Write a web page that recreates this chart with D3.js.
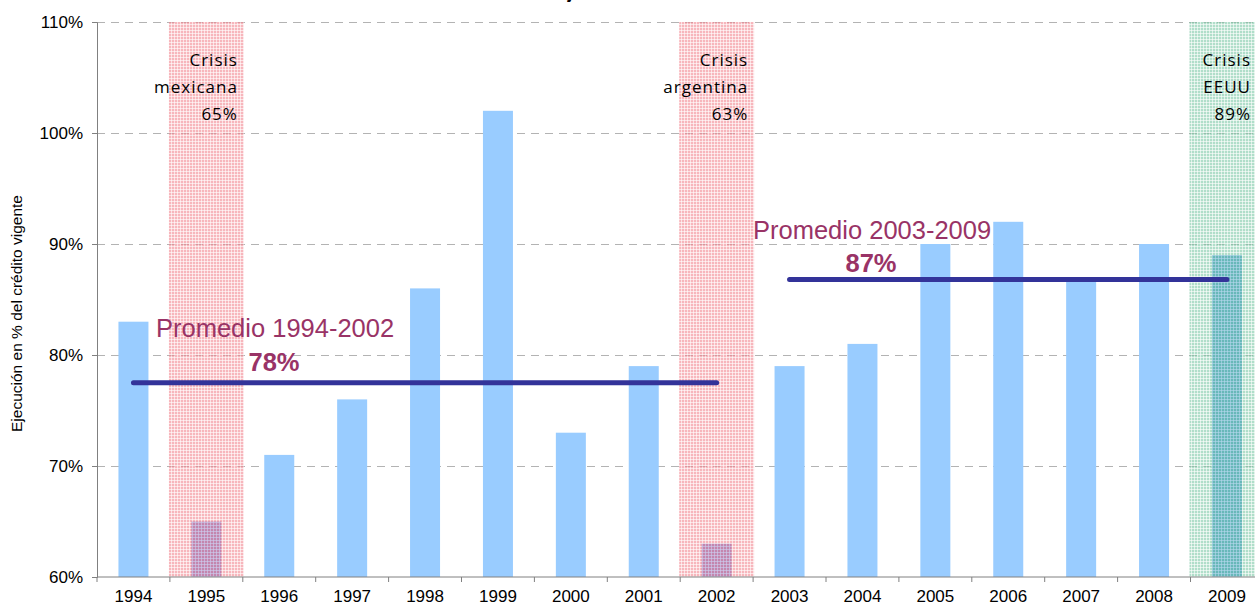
<!DOCTYPE html>
<html>
<head>
<meta charset="utf-8">
<style>
    html, body { margin: 0; padding: 0; background: #fff; }
    svg { display: block; font-family: "Liberation Sans", Arial, sans-serif; }
    .grid line { stroke: #b3b3b3; stroke-dasharray: 8,6; }
    .grid .domain { display: none; }
    .axis text { font-size: 17px; fill: #000; font-family: "Liberation Sans", Arial, sans-serif; }
    .axis line, .axis path { stroke: #808080; }
    .crisis-label { font-family: "Open Sans", sans-serif; font-size: 17px; letter-spacing: 1px; fill: #000; }
    .prom { fill: #993366; font-size: 25.5px; }
</style>
</head>
<body>
<svg width="1255" height="610">
    <defs>
        <pattern id="hatchRed" width="3" height="3" patternUnits="userSpaceOnUse">
            <rect width="3" height="3" fill="#f2858f"/>
            <rect x="0" y="0" width="3" height="1" fill="#ffffff" fill-opacity="0.6"/>
            <rect x="0" y="0" width="1" height="3" fill="#ffffff" fill-opacity="0.6"/>
        </pattern>
        <pattern id="hatchGreen" width="3" height="3" patternUnits="userSpaceOnUse">
            <rect width="3" height="3" fill="#7cc8a6"/>
            <rect x="0" y="0" width="3" height="1" fill="#ffffff" fill-opacity="0.6"/>
            <rect x="0" y="0" width="1" height="3" fill="#ffffff" fill-opacity="0.6"/>
        </pattern>
    </defs>
</svg>
<script src="https://cdn.jsdelivr.net/npm/d3@7"></script>
<script>
    // data
    var years = ["1994","1995","1996","1997","1998","1999","2000","2001","2002","2003","2004","2005","2006","2007","2008","2009"];
    var values = [83, 65, 71, 76, 86, 102, 73, 79, 63, 79, 81, 90, 92, 87, 90, 89];
    var yTicks = [60, 70, 80, 90, 100, 110];
    var crisisYears = ["1995", "2002", "2009"];
    var crisisLabels = [["Crisis", "mexicana", "65%"], ["Crisis", "argentina", "63%"], ["Crisis", "EEUU", "89%"]];
    var averages = [
        {from: "1994", to: "2002", value: 77.5, label: "Promedio 1994-2002", pct: "78%"},
        {from: "2003", to: "2009", value: 86.8, label: "Promedio 2003-2009", pct: "87%"}
    ];

    var svg = d3.select("svg"),
        mLeft = 97, mTop = 22, mBottom = 577,
        step = 72.9,
        barW = 30;

    var x = d3.scaleBand()
        .domain(years)
        .range([mLeft, mLeft + years.length * step])
        .padding(0);

    var y = d3.scaleLinear()
        .domain([60, 110])
        .range([mBottom, mTop]);

    var plotRight = mLeft + years.length * step;

    // dashed gridlines
    svg.append("g")
        .attr("class", "grid")
        .attr("transform", "translate(" + mLeft + ",0)")
        .call(d3.axisLeft(y).tickValues(yTicks.slice(1)).tickSize(-(plotRight - mLeft)).tickFormat(""));

    // bars
    var data = years.map(function(d, i) { return {year: d, value: values[i]}; });

    svg.append("g").selectAll("rect")
        .data(data)
        .enter().append("rect")
        .attr("x", function(d) { return x(d.year) + (x.bandwidth() - barW) / 2; })
        .attr("width", barW)
        .attr("y", function(d) { return y(d.value); })
        .attr("height", function(d) { return mBottom - y(d.value); })
        .attr("fill", function(d) {
            if (d.year === "2009") return "#4a9fd6";
            if (crisisYears.indexOf(d.year) >= 0) return "#7f88dc";
            return "#99ccff";
        });

    // crisis shading on top
    var shade = svg.append("g").selectAll("g")
        .data(crisisYears)
        .enter().append("g");

    shade.append("rect")
        .attr("x", function(d) { return x(d) - 1; })
        .attr("width", x.bandwidth() + 2)
        .attr("y", mTop)
        .attr("height", mBottom - mTop)
        .attr("fill", function(d) { return d === "2009" ? "url(#hatchGreen)" : "url(#hatchRed)"; })
        .attr("opacity", 0.6);

    shade.append("text")
        .attr("class", "crisis-label")
        .attr("text-anchor", "end")
        .attr("x", function(d) { return Math.min(x(d) + 68, 1251); })
        .attr("y", 66)
        .selectAll("tspan")
        .data(function(d, i) { return crisisLabels[i]; })
        .enter().append("tspan")
        .attr("x", function() { return d3.select(this.parentNode).attr("x"); })
        .attr("dy", function(d, i) { return i === 0 ? 0 : 27; })
        .text(function(d) { return d; });

    // averages
    var avg = svg.append("g").selectAll("g")
        .data(averages)
        .enter().append("g");

    avg.append("line")
        .attr("x1", function(d) { return x(d.from) + x.bandwidth() / 2; })
        .attr("x2", function(d) { return x(d.to) + x.bandwidth() / 2; })
        .attr("y1", function(d) { return y(d.value); })
        .attr("y2", function(d) { return y(d.value); })
        .attr("stroke", "#333399")
        .attr("stroke-width", 5)
        .attr("stroke-linecap", "round");

    avg.append("text")
        .attr("class", "prom")
        .attr("x", function(d, i) { return i === 0 ? 156 : 753; })
        .attr("y", function(d, i) { return y(d.value) - (i === 0 ? 46 : 41); })
        .text(function(d) { return d.label; });

    avg.append("text")
        .attr("class", "prom")
        .attr("font-weight", "bold")
        .attr("text-anchor", "middle")
        .attr("x", function(d, i) { return i === 0 ? 274 : 871; })
        .attr("y", function(d, i) { return y(d.value) - (i === 0 ? 12 : 8); })
        .text(function(d) { return d.pct; });

    // axes
    svg.append("g")
        .attr("class", "axis")
        .attr("transform", "translate(" + mLeft + ",0)")
        .call(d3.axisLeft(y).tickValues(yTicks).tickSize(5).tickPadding(9).tickFormat(function(d) { return d + "%"; }));

    var aixB = svg.append("g")
        .attr("class", "axis")
        .attr("transform", "translate(0," + mBottom + ")")
        .call(d3.axisBottom(x).tickSize(0).tickPadding(13));
    aixB.select(".domain").attr("d", "M" + mLeft + ",0H" + plotRight);

    svg.append("g").selectAll("line")
        .data(years)
        .enter().append("line")
        .attr("x1", function(d) { return x(d); })
        .attr("x2", function(d) { return x(d); })
        .attr("y1", mBottom)
        .attr("y2", mBottom + 5)
        .attr("stroke", "#808080");

    // y axis title
    svg.append("text")
        .attr("transform", "translate(22," + ((mTop + mBottom) / 2 + 14) + ") rotate(-90)")
        .attr("text-anchor", "middle")
        .attr("font-size", "15.5px")
        .text("Ejecución en % del crédito vigente");

    // title, cut off by the top edge
    svg.append("text")
        .attr("x", 618)
        .attr("y", -1)
        .attr("text-anchor", "middle")
        .attr("font-weight", "bold")
        .attr("font-size", "17px")
        .text("Gráfico N° 1: Nivel de ejecución de la inversión real directa");
</script>
</body>
</html>
